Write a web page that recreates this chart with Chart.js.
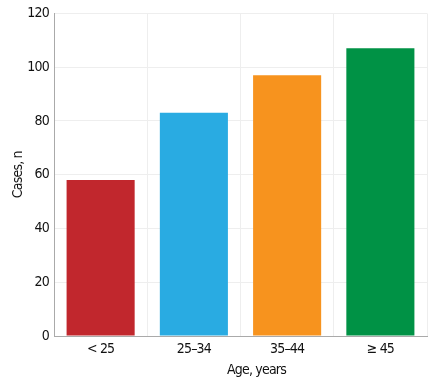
<!DOCTYPE html>
<html>
<head>
<meta charset="utf-8">
<script src="https://cdn.jsdelivr.net/npm/chart.js@4/dist/chart.umd.min.js"></script>
<style>
html,body{margin:0;padding:0;background:#fff;}
#wrap{width:444px;height:379px;}
</style>
</head>
<body>
<div id="wrap"><canvas id="c" width="444" height="379"></canvas></div>
<script>
const categories = ["< 25", "25\u201334", "35\u201344", "\u2265 45"];
const cases = [58, 83, 97, 107];
const barColors = ["#C1272D", "#29ABE2", "#F7931E", "#009245"];
const yTicks = [0, 20, 40, 60, 80, 100, 120];
const xTitle = "Age, years";
const yTitle = "Cases, n";

const FONT = "'DejaVu Sans', sans-serif";
const F = (size) => ({ family: FONT, size: size, weight: 'condensed' });
const SPACING = '-0.8px';

const narrowText = {
  id: 'narrowText',
  beforeUpdate(chart) { chart.ctx.letterSpacing = SPACING; },
  beforeLayout(chart) { chart.ctx.letterSpacing = SPACING; },
  beforeDraw(chart) { chart.ctx.letterSpacing = SPACING; },
  afterDraw(chart) {
    const ctx = chart.ctx, ca = chart.chartArea;
    ctx.save();
    ctx.letterSpacing = SPACING;
    ctx.font = "condensed 14px " + FONT;
    ctx.fillStyle = '#111';
    ctx.textAlign = 'center';
    ctx.textBaseline = 'middle';
    ctx.fillText(xTitle, (ca.left + ca.right) / 2 + 16, ca.bottom + 34);
    ctx.restore();
  }
};

new Chart(document.getElementById('c'), {
  type: 'bar',
  plugins: [narrowText],
  data: {
    labels: categories,
    datasets: [{
      data: cases,
      backgroundColor: barColors,
      borderWidth: 0,
      barPercentage: 0.73,
      categoryPercentage: 1.0
    }]
  },
  options: {
    responsive: false,
    animation: false,
    devicePixelRatio: 1,
    layout: { padding: { top: 11, right: 17, left: 0, bottom: 0 } },
    plugins: { legend: { display: false }, tooltip: { enabled: false } },
    scales: {
      x: {
        afterFit: (axis) => { axis.height = 43; },
        grid: { color: '#eeeeee', drawTicks: false, offset: true },
        border: { color: '#aaaaaa' },
        ticks: { color: '#111', font: F(14), padding: 5 },
        title: { display: false, text: xTitle }
      },
      y: {
        min: 0, max: 120,
        afterFit: (axis) => { axis.width = 54; },
        afterBuildTicks: (axis) => { axis.ticks = yTicks.map(v => ({ value: v })); },
        grid: { color: '#eeeeee', drawTicks: false },
        border: { color: '#aaaaaa' },
        ticks: { color: '#111', font: F(14), padding: 5 },
        title: { display: true, text: yTitle, color: '#111', font: F(14), padding: { top: 10, bottom: 0 } }
      }
    }
  }
});
</script>
</body>
</html>
